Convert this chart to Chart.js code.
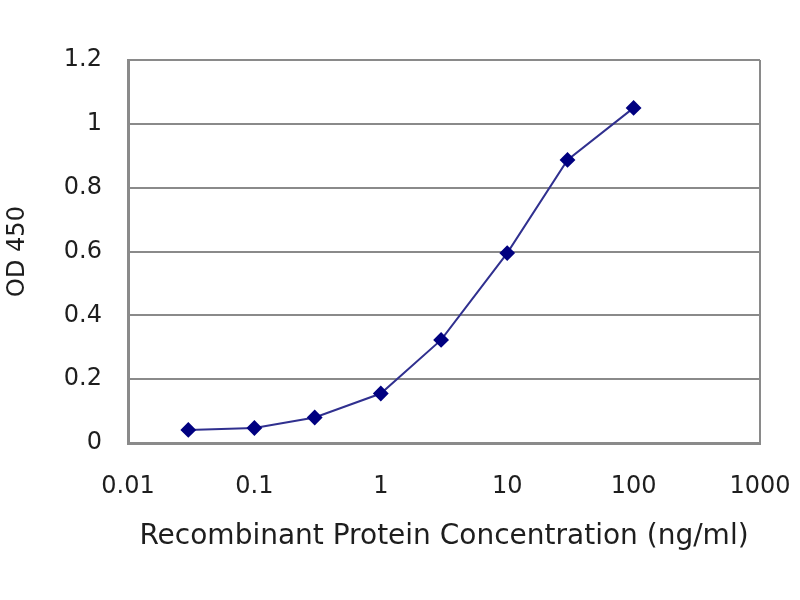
<!DOCTYPE html>
<html lang="en">
<head>
    <meta charset="UTF-8">
    <title>OD 450 curve</title>
    <script src="https://cdn.jsdelivr.net/npm/chart.js"></script>
    <style>
        html, body { margin: 0; padding: 0; background: #fff; overflow: hidden; }
    </style>
</head>
<body>
    <canvas id="curva" width="800" height="600"></canvas>

    <script>
        // concentracao (ng/ml) e leitura OD 450
        var concentracao = [0.03, 0.1, 0.3, 1, 3, 10, 30, 100]
        var od450 = [0.041, 0.047, 0.08, 0.155, 0.323, 0.595, 0.887, 1.05]
        var ticksX = [0.01, 0.1, 1, 10, 100, 1000]
        var labelsX = ['0.01', '0.1', '1', '10', '100', '1000']
        var ticksY = [0, 0.2, 0.4, 0.6, 0.8, 1, 1.2]
        var labelsY = ['0', '0.2', '0.4', '0.6', '0.8', '1', '1.2']

        var pontos = []
        for (i = 0; i < concentracao.length; i++) {
            pontos.push({ x: concentracao[i], y: od450[i] })
        }

        var cinza = '#8a8a8a'
        var fonte = 'DejaVu Sans'
        Chart.defaults.color = '#1e1e1e'

        new Chart(document.getElementById('curva'), {
            type: 'line',
            data: {
                datasets: [{
                    data: pontos,
                    borderColor: '#30308f',
                    borderWidth: 2,
                    pointStyle: 'rectRot',
                    pointRadius: 6.5,
                    pointBackgroundColor: '#000080',
                    pointBorderColor: '#000080',
                    tension: 0
                }]
            },
            options: {
                responsive: false,
                animation: false,
                devicePixelRatio: 1,
                layout: { padding: { left: 0, right: 40, top: 60, bottom: 40 } },
                plugins: { legend: { display: false }, tooltip: { enabled: false } },
                scales: {
                    x: {
                        type: 'logarithmic',
                        min: 0.01,
                        max: 1000,
                        afterBuildTicks: function (s) {
                            s.ticks = ticksX.map(function (v) { return { value: v } })
                        },
                        afterFit: function (s) {
                            s.height = 117
                            s.paddingLeft = 0
                            s.paddingRight = 0
                        },
                        ticks: {
                            padding: 29,
                            maxRotation: 0,
                            autoSkip: false,
                            font: { family: fonte, size: 24 },
                            callback: function (v) { return labelsX[ticksX.indexOf(v)] }
                        },
                        grid: {
                            drawTicks: false,
                            lineWidth: 2,
                            color: function (c) { return c.tick && c.tick.value === 1000 ? cinza : 'rgba(0,0,0,0)' }
                        },
                        border: { color: cinza, width: 3 },
                        title: {
                            display: true,
                            text: 'Recombinant Protein Concentration (ng/ml)',
                            font: { family: fonte, size: 28 },
                            padding: { top: 0, bottom: 6 }
                        }
                    },
                    y: {
                        min: 0,
                        max: 1.2,
                        afterBuildTicks: function (s) {
                            s.ticks = ticksY.map(function (v) { return { value: v } })
                        },
                        afterFit: function (s) { s.width = 128 },
                        ticks: {
                            padding: 26,
                            font: { family: fonte, size: 24 },
                            callback: function (v) { return labelsY[ticksY.indexOf(v)] }
                        },
                        grid: { drawTicks: false, lineWidth: 2, color: cinza },
                        border: { color: cinza, width: 3 },
                        title: {
                            display: true,
                            text: 'OD 450',
                            font: { family: fonte, size: 24 },
                            padding: { top: 3, bottom: 0 }
                        }
                    }
                }
            }
        });
    </script>
</body>
</html>
